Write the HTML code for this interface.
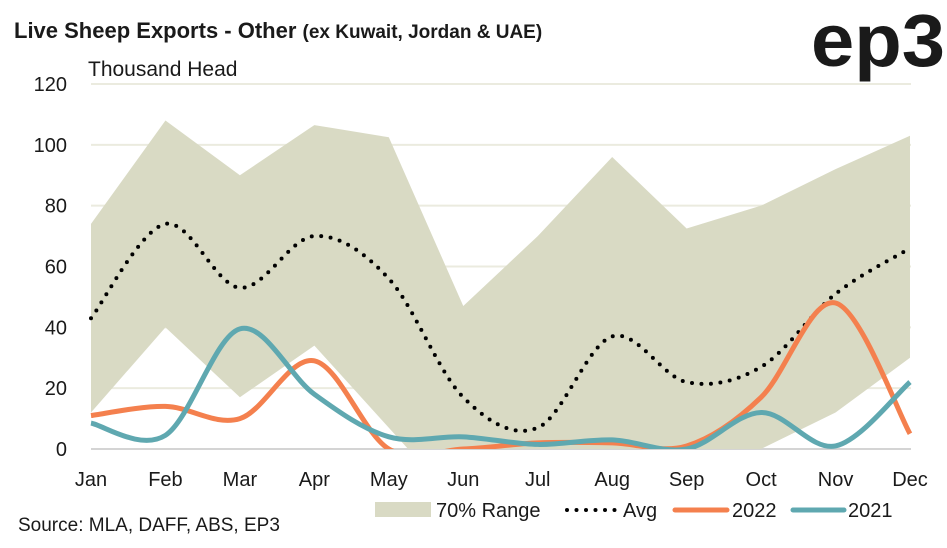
<!DOCTYPE html>
<html><head><meta charset="utf-8"><style>
html,body{margin:0;padding:0;background:#fff;}
svg text{font-family:"Liberation Sans",sans-serif;fill:#1a1a1a;}
</style></head><body>
<svg id="chart" width="947" height="543" viewBox="0 0 947 543" xmlns="http://www.w3.org/2000/svg">
<text x="14" y="38" font-size="22" font-weight="bold">Live Sheep Exports - Other <tspan font-size="19">(ex Kuwait, Jordan &amp; UAE)</tspan></text>
<text x="811" y="66" font-size="74" font-weight="bold" textLength="134" lengthAdjust="spacingAndGlyphs">ep3</text>
<text x="88" y="76" font-size="21">Thousand Head</text>
<g id="grid"></g>
<g id="plot"></g>
<g id="xlabels"></g>
<g id="ylabels"></g>
<g>
<rect x="375" y="502" width="56" height="15" fill="#d9dac4"/>
<text x="436" y="517" font-size="20">70% Range</text>
<line x1="567" y1="510" x2="615" y2="510" stroke="#000" stroke-width="4" stroke-linecap="round" stroke-dasharray="0 9.5"/>
<text x="623" y="517" font-size="20">Avg</text>
<line x1="675" y1="510" x2="727" y2="510" stroke="#f4804e" stroke-width="5" stroke-linecap="round"/>
<text x="732" y="517" font-size="20">2022</text>
<line x1="793" y1="510" x2="844" y2="510" stroke="#5fa8b0" stroke-width="5" stroke-linecap="round"/>
<text x="848" y="517" font-size="20">2021</text>
</g>
<text x="18" y="531" font-size="19">Source: MLA, DAFF, ABS, EP3</text>
</svg>
<script>
const months = ["Jan","Feb","Mar","Apr","May","Jun","Jul","Aug","Sep","Oct","Nov","Dec"];
const yTicks = [0,20,40,60,80,100,120];
const rangeUpper = [74,108,90,106.5,102.5,47,70,96,72.5,80,92,103];
const rangeLower = [12,40,17,34,7,-20,0,0,0,0,12,30];
const avgValues = [43,74,53,70,56,17,7,37,22,27,51,66];
const values2022 = [11,14,10,29,0,0,2,2,1,17,48,5];
const values2021 = [8.5,4.5,39.5,18,4,4,1.5,3,0,12,1,22];

const NS="http://www.w3.org/2000/svg";
const X0=91,X1=910,Y0=449,Y1=84,YMAX=120;
function xs(i){return X0+(X1-X0)*i/(months.length-1);}
function ys(v){return Y0-(Y0-Y1)*Math.max(v,0)/YMAX;}
function mk(tag,attrs,parent){const e=document.createElementNS(NS,tag);for(const k in attrs)e.setAttribute(k,attrs[k]);parent.appendChild(e);return e;}
function smooth(vals){
  const p=vals.map((v,i)=>[xs(i),Y0-(Y0-Y1)*v/YMAX]);
  let d="M"+p[0][0]+","+p[0][1];
  for(let i=0;i<p.length-1;i++){
    const a=p[i-1]||p[i],b=p[i],c=p[i+1],e=p[i+2]||c,t=0.5/3*2;
    d+=" C"+(b[0]+(c[0]-a[0])*t/2)+","+(b[1]+(c[1]-a[1])*t/2)+" "+(c[0]-(e[0]-b[0])*t/2)+","+(c[1]-(e[1]-b[1])*t/2)+" "+c[0]+","+c[1];
  }
  return d;
}
const grid=document.getElementById('grid'),plot=document.getElementById('plot');
const xl=document.getElementById('xlabels'),yl=document.getElementById('ylabels');
yTicks.forEach(t=>{
  const l=mk('line',{x1:X0,x2:X1+1,y1:ys(t),y2:ys(t),stroke:t===0?'#d4d4d4':'#ebebdf','stroke-width':2},grid);
  
  
  const tx=mk('text',{x:67,y:ys(t)+7,'font-size':20,'text-anchor':'end'},yl);
  tx.textContent=t;
  
  
});
months.forEach((m,i)=>{
  const tx=mk('text',{x:xs(i),y:486,'font-size':20,'text-anchor':'middle'},xl);
  tx.textContent=m;
  
  
});
mk('clipPath',{id:'clip'},plot).appendChild(document.createElementNS(NS,'rect'));
const cr=plot.querySelector('clipPath rect');cr.setAttribute('x',0);cr.setAttribute('y',0);cr.setAttribute('width',947);cr.setAttribute('height',Y0);
let d="M"+rangeUpper.map((v,i)=>xs(i)+","+(Y0-(Y0-Y1)*v/YMAX)).join(" L");
for(let i=months.length-1;i>=0;i--)d+=" L"+xs(i)+","+(Y0-(Y0-Y1)*rangeLower[i]/YMAX);
const area=mk('path',{d:d+"Z",fill:'#d9dac4','clip-path':'url(#clip)'},plot);


const avg=mk('path',{d:smooth(avgValues),fill:'none',stroke:'#000','stroke-width':4,'stroke-linecap':'round','stroke-dasharray':'0 9.5'},plot);


const l22=mk('path',{d:smooth(values2022),fill:'none',stroke:'#f4804e','stroke-width':5,'clip-path':'url(#clip)'},plot);


const l21=mk('path',{d:smooth(values2021),fill:'none',stroke:'#5fa8b0','stroke-width':5,'clip-path':'url(#clip)'},plot);


</script>
</body></html>
